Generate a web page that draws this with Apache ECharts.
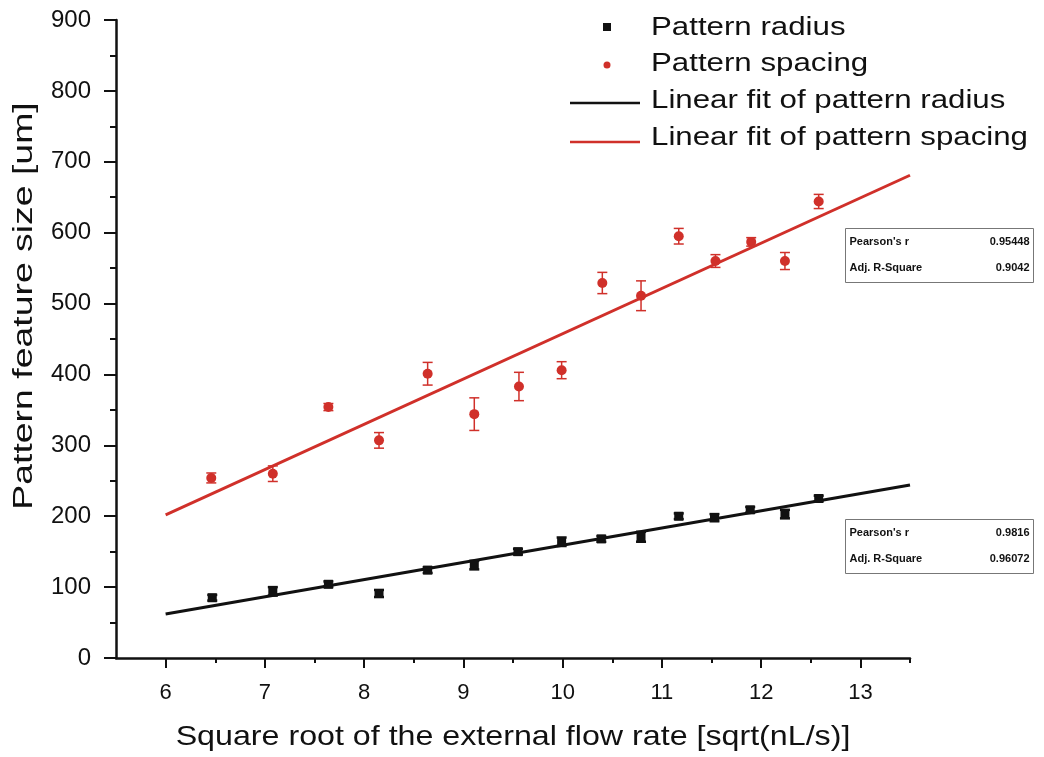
<!DOCTYPE html>
<html>
<head>
<meta charset="utf-8">
<script src="https://cdn.jsdelivr.net/npm/echarts@6/dist/echarts.min.js"></script>
<style>
  html, body { margin: 0; padding: 0; background: #fff; }
  #chart { width: 1044px; height: 757px; }
</style>
</head>
<body>
<div id="chart"></div>
<script>
// Square root of the external flow rate [sqrt(nL/s)]
const radiusX   = [6.47, 7.08, 7.64, 8.15, 8.64, 9.11, 9.55, 9.99, 10.39, 10.79, 11.17, 11.53, 11.89, 12.24, 12.58];
const radiusY   = [85, 94, 104, 91, 124, 131, 150, 164, 168, 171, 200, 198, 209, 203, 225];
const radiusErr = [4, 6, 4, 5, 4, 6, 4, 6, 4, 7, 4, 5, 4, 6, 4];

const spacingX   = [6.46, 7.08, 7.64, 8.15, 8.64, 9.11, 9.56, 9.99, 10.40, 10.79, 11.17, 11.54, 11.90, 12.24, 12.58];
const spacingY   = [254, 260, 354, 307, 401, 344, 383, 406, 529, 511, 595, 560, 587, 560, 644];
const spacingErr = [7, 11, 5, 11, 16, 23, 20, 12, 15, 21, 11, 9, 6, 12, 10];

// Linear fit end points over the plotted range
const fitRadius  = [[6, 62], [13.5, 244]];
const fitSpacing = [[6, 202], [13.5, 681]];

// Axis ticks
const xMajorTicks = [6, 7, 8, 9, 10, 11, 12, 13];
const xMinorTicks = [6.5, 7.5, 8.5, 9.5, 10.5, 11.5, 12.5, 13.5];

const seriesNames = ['Pattern radius', 'Pattern spacing', 'Linear fit of pattern radius', 'Linear fit of pattern spacing'];
const xTitle = 'Square root of the external flow rate [sqrt(nL/s)]';
const yTitle = 'Pattern feature size [um]';

const statsSpacing = [["Pearson's r", '0.95448'], ['Adj. R-Square', '0.9042']];
const statsRadius  = [["Pearson's r", '0.9816'], ['Adj. R-Square', '0.96072']];

const RED = '#d0302a';
const INK = '#111';
const FONT = '"Liberation Sans", Arial, Helvetica, sans-serif';

function pairs(xs, ys) { return xs.map((x, i) => [x, ys[i]]); }
function errRows(xs, ys, es) { return xs.map((x, i) => [x, ys[i] - es[i], ys[i] + es[i]]); }

function errorBars(color, width) {
  return function (params, api) {
    const lo = api.coord([api.value(0), api.value(1)]);
    const hi = api.coord([api.value(0), api.value(2)]);
    const half = 5;
    const style = { stroke: color, lineWidth: width };
    return {
      type: 'group',
      children: [
        { type: 'line', shape: { x1: lo[0], y1: lo[1], x2: hi[0], y2: hi[1] }, style },
        { type: 'line', shape: { x1: lo[0] - half, y1: lo[1], x2: lo[0] + half, y2: lo[1] }, style },
        { type: 'line', shape: { x1: hi[0] - half, y1: hi[1], x2: hi[0] + half, y2: hi[1] }, style }
      ]
    };
  };
}

function statsBox(left, top, rows) {
  const w = 188, rowH = 26;
  const children = [{
    type: 'rect',
    shape: { x: 0, y: 0, width: w, height: rows.length * rowH + 2 },
    style: { fill: '#fff', stroke: '#777', lineWidth: 1 }
  }];
  rows.forEach((r, i) => {
    const y = 13 + i * rowH;
    children.push({ type: 'text', x: 4, y, style: { text: r[0], font: 'bold 11px ' + FONT, fill: INK, verticalAlign: 'middle' } });
    children.push({ type: 'text', x: w - 4, y, style: { text: r[1], font: 'bold 11px ' + FONT, fill: INK, align: 'right', verticalAlign: 'middle' } });
  });
  return { type: 'group', left, top, children };
}

// Key in the top right corner: symbol or line sample, then a widened label
function keyBlock() {
  const rowY = [27, 63, 100, 137];
  const children = [];
  children.push({ type: 'rect', shape: { x: 603, y: rowY[0] - 4, width: 8, height: 8 }, style: { fill: INK } });
  children.push({ type: 'circle', shape: { cx: 607, cy: rowY[1] + 2, r: 3.5 }, style: { fill: RED } });
  children.push({ type: 'line', shape: { x1: 570, y1: rowY[2] + 3, x2: 640, y2: rowY[2] + 3 }, style: { stroke: INK, lineWidth: 2.5 } });
  children.push({ type: 'line', shape: { x1: 570, y1: rowY[3] + 5, x2: 640, y2: rowY[3] + 5 }, style: { stroke: RED, lineWidth: 2.5 } });
  seriesNames.forEach((name, i) => {
    children.push({
      type: 'text', x: 651, y: rowY[i] + 1, scaleX: 1.25,
      style: { text: name, font: '25px ' + FONT, fill: INK, verticalAlign: 'middle' }
    });
  });
  return { type: 'group', children };
}

const chart = echarts.init(document.getElementById('chart'), null, { renderer: 'canvas' });

chart.setOption({
  backgroundColor: '#fff',
  animation: false,
  textStyle: { fontFamily: FONT },
  grid: { left: 116, right: 134, top: 20, bottom: 99, containLabel: false },
  xAxis: [
    {
      type: 'value',
      min: 5.5,
      max: 13.5,
      interval: 0.5,
      axisLine: { lineStyle: { color: INK, width: 2.5 } },
      axisTick: { show: true, inside: false, length: 10, customValues: xMajorTicks, lineStyle: { color: INK, width: 2 } },
      axisLabel: { fontSize: 22, color: INK, margin: 24, fontFamily: FONT, customValues: xMajorTicks },
      splitLine: { show: false }
    },
    {
      type: 'value',
      position: 'bottom',
      min: 5.5,
      max: 13.5,
      interval: 0.5,
      axisLine: { show: false },
      axisTick: { show: true, inside: false, length: 5, customValues: xMinorTicks, lineStyle: { color: INK, width: 2 } },
      axisLabel: { show: false },
      splitLine: { show: false }
    }
  ],
  yAxis: {
    type: 'value',
    min: 0,
    max: 900,
    interval: 100,
    axisLine: { show: true, lineStyle: { color: INK, width: 2.5 } },
    axisTick: { show: true, inside: false, length: 12, lineStyle: { color: INK, width: 2 } },
    minorTick: { show: true, splitNumber: 2, length: 6, lineStyle: { color: INK, width: 2 } },
    axisLabel: { fontSize: 24, color: INK, margin: 25, fontFamily: FONT },
    splitLine: { show: false }
  },
  series: [
    {
      name: seriesNames[2],
      type: 'line',
      data: fitRadius,
      symbol: 'none',
      lineStyle: { color: INK, width: 3 },
      z: 2
    },
    {
      name: seriesNames[3],
      type: 'line',
      data: fitSpacing,
      symbol: 'none',
      lineStyle: { color: RED, width: 3 },
      z: 2
    },
    {
      name: seriesNames[0] + ' error',
      type: 'custom',
      renderItem: errorBars(INK, 2.5),
      data: errRows(radiusX, radiusY, radiusErr),
      encode: { x: 0, y: [1, 2] },
      z: 3
    },
    {
      name: seriesNames[1] + ' error',
      type: 'custom',
      renderItem: errorBars(RED, 1.5),
      data: errRows(spacingX, spacingY, spacingErr),
      encode: { x: 0, y: [1, 2] },
      z: 3
    },
    {
      name: seriesNames[0],
      type: 'scatter',
      data: pairs(radiusX, radiusY),
      symbol: 'rect',
      symbolSize: 9,
      itemStyle: { color: INK, opacity: 1 },
      z: 4
    },
    {
      name: seriesNames[1],
      type: 'scatter',
      data: pairs(spacingX, spacingY),
      symbol: 'circle',
      symbolSize: 10,
      itemStyle: { color: RED, opacity: 1 },
      z: 4
    }
  ],
  graphic: [
    keyBlock(),
    {
      type: 'text', x: 513, y: 737, scaleX: 1.15,
      style: { text: xTitle, font: '28px ' + FONT, fill: INK, align: 'center', verticalAlign: 'middle' }
    },
    {
      type: 'text', x: 25, y: 306, rotation: Math.PI / 2, scaleX: 1.385,
      style: { text: yTitle, font: '27px ' + FONT, fill: INK, align: 'center', verticalAlign: 'middle' }
    },
    statsBox(845, 228, statsSpacing),
    statsBox(845, 519, statsRadius)
  ]
});
</script>
</body>
</html>
